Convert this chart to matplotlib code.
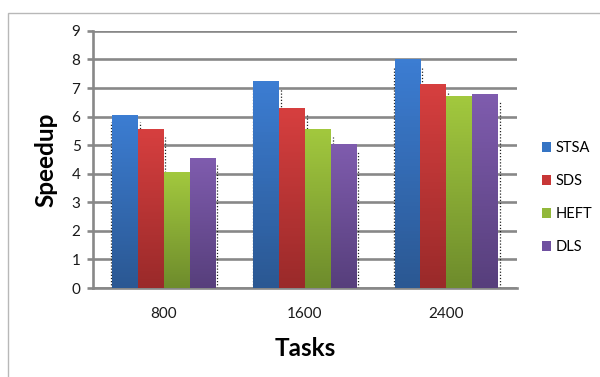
import matplotlib
matplotlib.use("Agg")
import matplotlib.pyplot as plt
import numpy as np
from matplotlib.colors import LinearSegmentedColormap
from matplotlib.patches import Patch, Rectangle

tasks = ["800", "1600", "2400"]
series = ["STSA", "SDS", "HEFT", "DLS"]
stsa = [6.05, 7.25, 8.0]
sds = [5.55, 6.3, 7.15]
heft = [4.05, 5.55, 6.72]
dls = [4.55, 5.05, 6.8]
values = [stsa, sds, heft, dls]

# (top colour, bottom colour) for the vertical shading of each series
shades = [("#3c7dd2", "#2b5893"),
          ("#d63f3f", "#9a2a2a"),
          ("#a2c83e", "#6e8c2c"),
          ("#7f5cae", "#573f7c")]
legend_colors = ["#3574c4", "#c83636", "#92b83a", "#6f50a0"]

plt.rcParams["font.family"] = ["Lato", "DejaVu Sans"]

fig = plt.figure(figsize=(6.0, 3.77), dpi=100)
ax = fig.add_axes([0.155, 0.236, 0.7067, 0.682])

grid_c = "#888888"
x = np.arange(len(tasks))
width = 0.183
offsets = (np.arange(len(series)) - 1.5) * width

for i, (vals, (top, bot)) in enumerate(zip(values, shades)):
    cmap = LinearSegmentedColormap.from_list(series[i], [bot, top])
    bars = ax.bar(x + offsets[i], vals, width, color=top, zorder=3,
                  linewidth=0)
    for b in bars:
        x0, w, h = b.get_x(), b.get_width(), b.get_height()
        grad = np.linspace(0, 1, 64).reshape(-1, 1)
        im = ax.imshow(grad, extent=[x0, x0 + w, 0, h], origin="lower",
                       aspect="auto", cmap=cmap, zorder=3.5)
        im.set_clip_path(b)
        # faint dotted shadow along the right edge
        ax.vlines(x0 + w + 0.012, 0, h - 0.25, colors="#222222",
                  linestyles=(0, (1, 1.5)), linewidth=0.9, zorder=2.5)
        if i == 0:
            ax.vlines(x0 - 0.004, 0, h - 0.25, colors="#222222",
                      linestyles=(0, (1, 1.5)), linewidth=0.9, zorder=2.5)

ax.set_xlim(-0.5, 2.5)
ax.set_ylim(0, 9)
ax.set_yticks(range(0, 10))
ax.set_xticks(x)
ax.set_xticklabels(tasks)

ax.yaxis.grid(True, color=grid_c, linewidth=1.9, zorder=1)
ax.set_axisbelow(True)
for s in ["top", "right"]:
    ax.spines[s].set_visible(False)
ax.spines["left"].set_color(grid_c)
ax.spines["left"].set_linewidth(1.9)
ax.spines["bottom"].set_color(grid_c)
ax.spines["bottom"].set_linewidth(1.9)
ax.tick_params(axis="y", length=4, width=1.9, color=grid_c, labelsize=11,
               pad=5, labelcolor="#1a1a1a")
ax.tick_params(axis="x", length=0, labelsize=11, pad=14,
               labelcolor="#1a1a1a")

ax.set_ylabel("Speedup", fontsize=17.5, fontweight="bold", labelpad=10)
ax.set_xlabel("Tasks", fontsize=17.5, fontweight="bold", labelpad=11)

handles = [Patch(facecolor=c, edgecolor="none") for c in legend_colors]
fig.legend(handles, series, loc="center left", bbox_to_anchor=(0.903, 0.476),
           frameon=False, fontsize=10.5, handlelength=0.65, handleheight=0.65,
           handletextpad=0.3, labelspacing=1.3, borderpad=0,
           borderaxespad=0)

# outer chart frame
fig.patches.append(Rectangle((0.014, -0.05), 1.1, 1.016,
                             transform=fig.transFigure, fill=False,
                             edgecolor="#b8b8b8", linewidth=1.0))

fig.savefig("out.png", dpi=100)
